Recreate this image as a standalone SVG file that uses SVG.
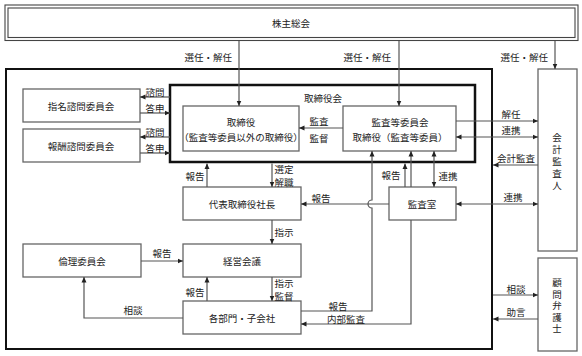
<svg xmlns="http://www.w3.org/2000/svg" width="582" height="356" viewBox="0 0 582 356">
<style>
text{font-family:"Noto Sans CJK JP","Noto Sans CJK SC",sans-serif;font-size:9.5px;fill:#222;text-anchor:middle;dominant-baseline:central}
.vt{writing-mode:vertical-rl;text-anchor:start;glyph-orientation-vertical:0}
.box{fill:#fff;stroke:#666;stroke-width:1.3}
.thin{fill:none;stroke:#444;stroke-width:1.1}
.ln{fill:none;stroke:#555;stroke-width:1.2}
.a{marker-end:url(#ah)}
.b{marker-start:url(#ah);marker-end:url(#ah)}
</style>
<defs>
<marker id="ah" viewBox="0 0 6 6" refX="6" refY="3" markerWidth="5.5" markerHeight="5.5" orient="auto-start-reverse" markerUnits="userSpaceOnUse">
<path d="M0,0.3 L6,3 L0,5.7z" fill="#222"/>
</marker>
</defs>
<rect x="0" y="0" width="582" height="356" fill="#fff"/>

<g id="shareholders">
<rect x="5" y="5" width="573" height="35.5" class="thin"/>
<rect x="8" y="8" width="567" height="29.5" class="thin"/>
<text x="291" y="23">株主総会</text>
</g>

<g id="container">
<rect x="6" y="69" width="486" height="280" fill="none" stroke="#111" stroke-width="2"/>
</g>

<g id="board">
<rect x="170" y="85" width="305" height="77" fill="#fff" stroke="#111" stroke-width="2.5"/>
<text x="323" y="98">取締役会</text>
</g>

<g id="directors">
<rect x="183" y="106" width="116" height="45" class="box"/>
<text x="241" y="122">取締役</text>
<text x="241" y="137">（監査等委員以外の取締役）</text>
</g>

<g id="audit-committee">
<rect x="343" y="106" width="113" height="45" class="box"/>
<text x="400" y="122">監査等委員会</text>
<text x="400" y="137">取締役（監査等委員）</text>
</g>

<g id="nomination">
<rect x="23" y="89" width="117" height="33" class="box"/>
<text x="81" y="106">指名諮問委員会</text>
</g>

<g id="remuneration">
<rect x="23" y="129" width="117" height="33" class="box"/>
<text x="81" y="146">報酬諮問委員会</text>
</g>

<g id="president">
<rect x="183" y="187" width="118" height="33" class="box"/>
<text x="242" y="204">代表取締役社長</text>
</g>

<g id="audit-office">
<rect x="389" y="187" width="67" height="33" class="box"/>
<text x="422" y="204">監査室</text>
</g>

<g id="management">
<rect x="183" y="244" width="118" height="33" class="box"/>
<text x="242" y="261">経営会議</text>
</g>

<g id="ethics">
<rect x="23" y="244" width="118" height="33" class="box"/>
<text x="82" y="261">倫理委員会</text>
</g>

<g id="departments">
<rect x="183" y="301" width="118" height="33" class="box"/>
<text x="242" y="318">各部門・子会社</text>
</g>

<g id="auditor">
<rect x="538" y="69" width="39" height="182" class="box"/>
<text x="557" y="133" class="vt" style="letter-spacing:2.5px">会計監査人</text>
</g>

<g id="lawyer">
<rect x="538" y="258" width="39" height="93" class="box"/>
<text x="557" y="278" class="vt" style="letter-spacing:2px">顧問弁護士</text>
</g>

<g id="connectors">
<path d="M239,41 L239,106" class="ln a"/>
<path d="M399,41 L399,106" class="ln a"/>
<path d="M555,41 L555,69" class="ln a"/>
<path d="M343,128 L299,128" class="ln a"/>
<path d="M170,97 L140,97" class="ln a"/>
<path d="M140,113 L170,113" class="ln a"/>
<path d="M170,137 L140,137" class="ln a"/>
<path d="M140,153 L170,153" class="ln a"/>
<path d="M456,121 L538,121" class="ln a"/>
<path d="M456,137 L538,137" class="ln b"/>
<path d="M538,165 L493,165" class="ln a"/>
<path d="M434,151 L434,187" class="ln b"/>
<path d="M456,204 L538,204" class="ln b"/>
<path d="M405,187 L405,163.5" class="ln a"/>
<path d="M411,187 L411,151" class="ln a"/>
<path d="M207,187 L207,163.5" class="ln a"/>
<path d="M272,163.5 L272,187" class="ln a"/>
<path d="M389,204 L301,204" class="ln a"/>
<path d="M301,311 L372,311 L372,208 A4,4 0 0 1 372,200 L372,151" class="ln a"/>
<path d="M411,220 L411,324 L301,324" class="ln a"/>
<path d="M272,220 L272,244" class="ln a"/>
<path d="M141,261 L183,261" class="ln a"/>
<path d="M207,301 L207,277" class="ln a"/>
<path d="M272,277 L272,301" class="ln a"/>
<path d="M183,318 L84,318 L84,277" class="ln a"/>
<path d="M493,295 L538,295" class="ln a"/>
<path d="M538,319 L493,319" class="ln a"/>
</g>

<g id="labels">
<text x="232" y="57" style="text-anchor:end">選任・解任</text>
<text x="391" y="57" style="text-anchor:end">選任・解任</text>
<text x="548" y="57" style="text-anchor:end">選任・解任</text>
<text x="319" y="121">監査</text>
<text x="319" y="138">監督</text>
<text x="155" y="91.5">諮問</text>
<text x="155" y="107.5">答申</text>
<text x="155" y="131.5">諮問</text>
<text x="155" y="147.5">答申</text>
<text x="511" y="114">解任</text>
<text x="511" y="130">連携</text>
<text x="516" y="158">会計監査</text>
<text x="448" y="176">連携</text>
<text x="513" y="197">連携</text>
<text x="391" y="175">報告</text>
<text x="195" y="176">報告</text>
<text x="284" y="169">選定</text>
<text x="284" y="182">解職</text>
<text x="321" y="198">報告</text>
<text x="284" y="232">指示</text>
<text x="162" y="253">報告</text>
<text x="195" y="292">報告</text>
<text x="284" y="283">指示</text>
<text x="284" y="296">監督</text>
<text x="133" y="310">相談</text>
<text x="338" y="306">報告</text>
<text x="346" y="319">内部監査</text>
<text x="516" y="289">相談</text>
<text x="516" y="312">助言</text>
</g>
</svg>
